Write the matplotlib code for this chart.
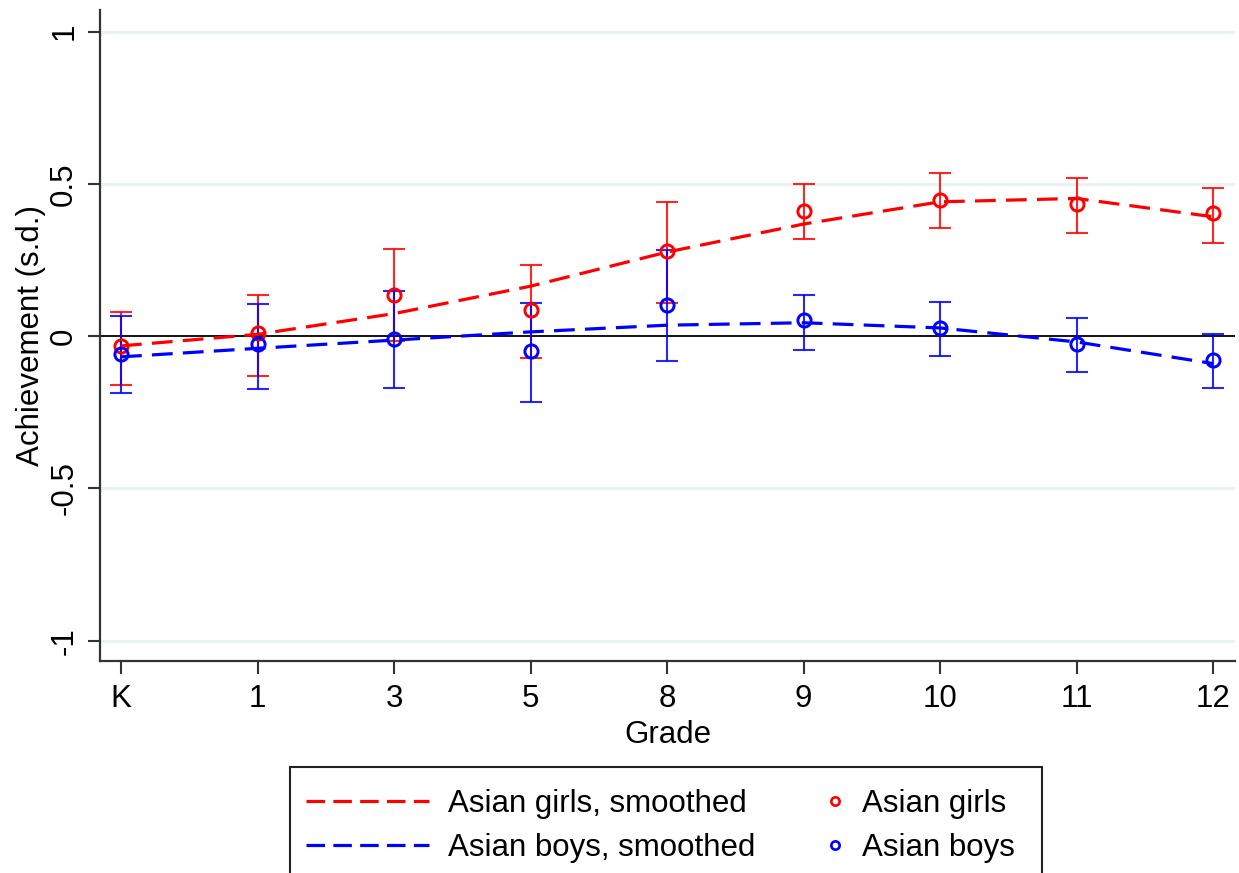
import matplotlib
matplotlib.use("Agg")
import matplotlib.pyplot as plt
from matplotlib.lines import Line2D
from matplotlib.patches import Rectangle
import numpy as np

plt.rcParams['font.family'] = ['Liberation Sans', 'DejaVu Sans']

grades = ["K", "1", "3", "5", "8", "9", "10", "11", "12"]

girls = [-0.032, 0.009, 0.135, 0.085, 0.280, 0.412, 0.447, 0.434, 0.403]
girls_lo = [-0.159, -0.130, -0.015, -0.073, 0.109, 0.318, 0.354, 0.338, 0.306]
girls_hi = [0.080, 0.135, 0.285, 0.235, 0.441, 0.499, 0.534, 0.518, 0.487]
girls_smooth = [-0.032, 0.006, 0.074, 0.164, 0.276, 0.368, 0.441, 0.452, 0.392]

boys = [-0.057, -0.027, -0.010, -0.048, 0.101, 0.053, 0.027, -0.026, -0.077]
boys_lo = [-0.188, -0.175, -0.170, -0.216, -0.081, -0.044, -0.065, -0.117, -0.170]
boys_hi = [0.067, 0.107, 0.148, 0.110, 0.283, 0.134, 0.112, 0.059, 0.007]
boys_smooth = [-0.068, -0.040, -0.013, 0.014, 0.036, 0.044, 0.027, -0.019, -0.090]

yticks = [-1, -0.5, 0, 0.5, 1]
ytick_labels = ["-1", "-0.5", "0", "0.5", "1"]

W, H = 1239, 873
fig = plt.figure(figsize=(W / 100, H / 100), dpi=100)
ax = fig.add_axes([0.0807, 0.243, 0.916, 0.746])

x = np.arange(len(grades))
FS = 22.5

for yv in [-1, -0.5, 0.5, 1]:
    ax.axhline(yv, color="#EAF2F3", lw=2.2, zorder=0)
ax.axhline(0, color="black", lw=1.3, zorder=1)

dash = (0, (6.5, 3.2))

for vals, lo, hi, sm, col in [(girls, girls_lo, girls_hi, girls_smooth, "#FF0000"),
                              (boys, boys_lo, boys_hi, boys_smooth, "#0000FF")]:
    v = np.array(vals)
    yerr = np.vstack([v - np.array(lo), np.array(hi) - v])
    ax.errorbar(x, v, yerr=yerr, fmt="none", ecolor=col, elinewidth=1.5,
                capsize=8, capthick=1.5, alpha=0.85, zorder=2)
    ax.plot(x, v, linestyle="none", marker="o", markersize=9.5,
            markerfacecolor="none", markeredgecolor=col, markeredgewidth=2.1, zorder=3)
    ax.plot(x, sm, color=col, lw=2.3, linestyle=dash, zorder=4)

ax.set_xlim(-0.154, 8.16)
ax.set_ylim(-1.066, 1.072)
ax.set_xticks(x)
ax.set_xticklabels(grades, fontsize=FS)
ax.set_yticks(yticks)
ax.set_yticklabels(ytick_labels, fontsize=FS, rotation=90, va="center")
ax.tick_params(axis="both", length=9, width=1.5, color="#333333", pad=8)
ax.tick_params(axis="y", pad=6)
for s in ["top", "right"]:
    ax.spines[s].set_visible(False)
for s in ["left", "bottom"]:
    ax.spines[s].set_linewidth(1.6)
    ax.spines[s].set_color("#333333")

ax.set_xlabel("Grade", fontsize=FS, labelpad=4)
ax.set_ylabel("Achievement (s.d.)", fontsize=FS, labelpad=2)

leg_dash = (0, (5.8, 2.6))
line_handles = [
    Line2D([], [], color="#FF0000", lw=2.3, linestyle=leg_dash),
    Line2D([], [], color="#0000FF", lw=2.3, linestyle=leg_dash),
]
marker_handles = [
    Line2D([], [], linestyle="none", marker="o", markersize=6, markerfacecolor="none",
           markeredgecolor="#FF0000", markeredgewidth=1.9),
    Line2D([], [], linestyle="none", marker="o", markersize=6, markerfacecolor="none",
           markeredgecolor="#0000FF", markeredgewidth=1.9),
]
line_labels = ["Asian girls, smoothed", "Asian boys, smoothed"]
marker_labels = ["Asian girls", "Asian boys"]

common = dict(loc="upper left", fontsize=FS, frameon=False, labelspacing=0.46,
              borderpad=0, borderaxespad=0)
legA = fig.legend(line_handles, line_labels, bbox_to_anchor=(306 / W, 1 - 789 / H),
                  handlelength=3.95, handletextpad=0.6, **common)
legB = fig.legend(marker_handles, marker_labels, bbox_to_anchor=(819.5 / W, 1 - 789 / H),
                  handlelength=1.0, handletextpad=0.36, **common)

frame = Rectangle((290 / W, -0.05), (1042 - 290) / W, (1 - 767 / H) + 0.05,
                  transform=fig.transFigure, fill=False, edgecolor="#222222",
                  linewidth=1.5, clip_on=False)
fig.add_artist(frame)

fig.savefig("out.png", dpi=100)
